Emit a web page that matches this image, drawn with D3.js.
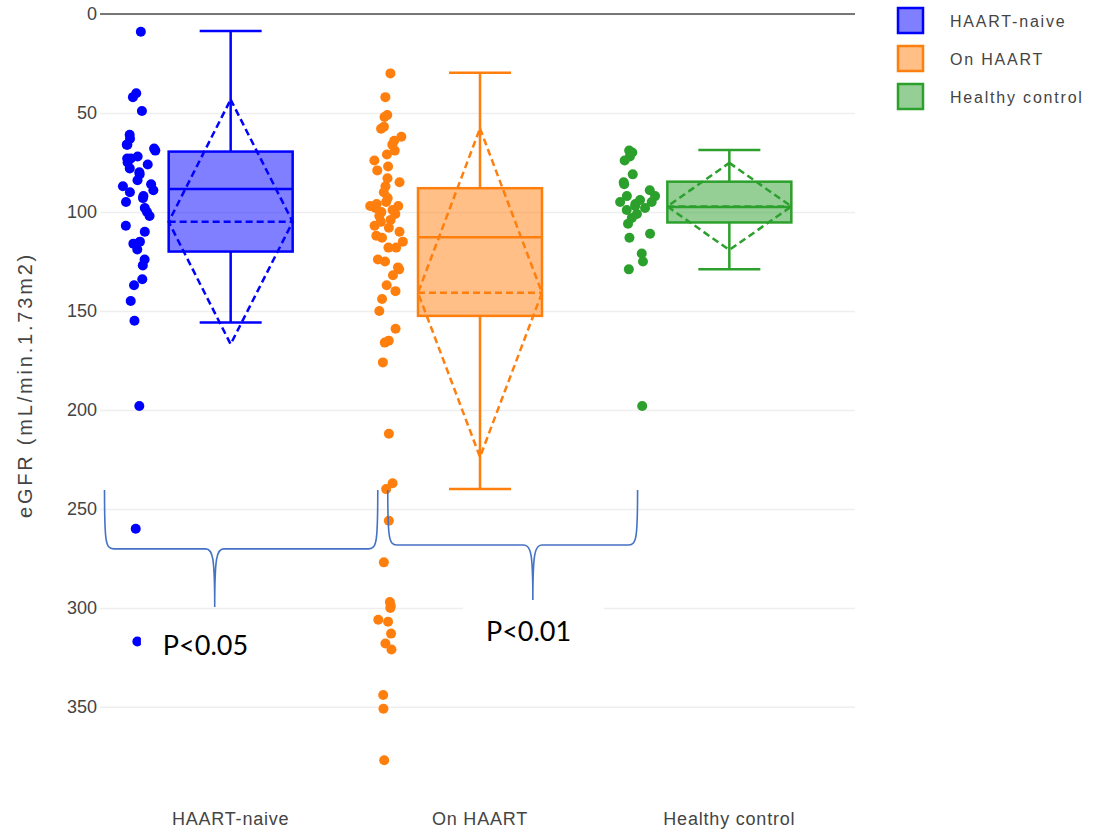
<!DOCTYPE html>
<html>
<head>
<meta charset="utf-8">
<script src="https://cdn.jsdelivr.net/npm/d3@7"></script>
<style>
  body { margin: 0; background: #fff; }
  svg { display: block; }
  text { font-family: "Liberation Sans", Arial, sans-serif; }
</style>
</head>
<body>
<script>
// categories and colours
var categories = ["HAART-naive", "On HAART", "Healthy control"];
var colors = ["#0000ff", "#ff7f0e", "#2ca02c"];

// eGFR values
var haartNaive = [9, 40, 42, 49, 61, 63, 66, 66, 68, 69, 72, 73, 73, 75, 76, 78, 80, 81, 84, 86, 87,
  89, 90, 92, 93, 95, 98, 100, 102, 107, 110, 115, 116, 119, 124, 127, 134, 137, 145, 155, 198, 260, 317];
var onHaart = [30, 42, 51, 52, 57, 58, 62, 64, 66, 69, 71, 74, 77, 79, 83, 85, 87, 90, 93, 95, 96, 97,
  97, 98, 99, 100, 101, 102, 104, 105, 107, 108, 110, 112, 113, 115, 118, 118, 124, 125, 128, 129, 132,
  137, 140, 144, 150, 159, 165, 166, 176, 212, 237, 240, 256, 277, 297, 299, 300, 306, 307, 313, 318,
  321, 344, 351, 377];
var healthyControl = [69, 70, 72, 74, 81, 85, 86, 89, 92, 92, 94, 95, 95, 96, 97, 98, 99, 101, 103, 106,
  111, 113, 121, 125, 129, 198];

// box statistics (axis is reversed: low values on top)
var whiskerLow = [8.6, 29.7, 68.7];
var q1 = [69.5, 88, 84.7];
var median = [88.4, 112.8, 97.5];
var q3 = [120, 152.5, 105.3];
var whiskerHigh = [155.9, 240, 129];
var mean = [105, 140.8, 97.2];
var sd = [61.8, 83, 22];

var yTicks = [0, 50, 100, 150, 200, 250, 300, 350];

// overlay annotations (x in category units, y in eGFR units)
var braces = [
  { x0: -0.506, xTip: -0.064, x1: 0.590, yTop: 240.4, yMid: 270.2, yTip: 299.5 },
  { x0: 0.630, xTip: 1.212, x1: 1.632, yTop: 240.4, yMid: 268.2, yTip: 296 }
];
var pLabels = ["P<0.05", "P<0.01"];
var pLabelPos = [{ x: -0.272, y: 323.7 }, { x: 1.024, y: 316.7 }];
var pMasks = [{ x0: -0.36, x1: 0.08, y0: 302, y1: 330 }, { x0: 0.932, x1: 1.496, y0: 297.5, y1: 326.3 }];

var groups = [haartNaive, onHaart, healthyControl];

var W = 1095, H = 831;
var plotLeft = 100, plotRight = 855;

var svg = d3.select("body").append("svg")
  .attr("width", W)
  .attr("height", H);

var y = d3.scaleLinear().domain([0, 392]).range([14, 790]);
var x = d3.scalePoint().domain(categories).range([106, 854]).padding(0.5);
var xi = d3.scaleLinear().domain([0, 1]).range([x(categories[0]), x(categories[1])]);

// grid + tick labels
var yAxis = d3.axisLeft(y).tickValues(yTicks).tickSize(-(plotRight - plotLeft)).tickPadding(3);
var gAxis = svg.append("g")
  .attr("transform", "translate(" + plotLeft + ",0)")
  .call(yAxis);
gAxis.select(".domain").remove();
gAxis.selectAll(".tick line").attr("stroke", "#eee").attr("stroke-width", 1.5);
gAxis.selectAll(".tick text")
  .attr("fill", "#444")
  .style("font-size", "18px")
  .style("font-family", "'Liberation Sans', Arial, sans-serif");

// zero line
svg.append("line")
  .attr("x1", plotLeft).attr("x2", plotRight)
  .attr("y1", y(0)).attr("y2", y(0))
  .attr("stroke", "#777").attr("stroke-width", 2);

// y axis title
svg.append("text")
  .attr("transform", "translate(32," + 385 + ") rotate(-90)")
  .attr("text-anchor", "middle")
  .attr("fill", "#444")
  .style("font-size", "20px")
  .style("letter-spacing", "2.8px")
  .text("eGFR (mL/min.1.73m2)");

// category labels
svg.append("g").selectAll("text")
  .data(categories)
  .join("text")
  .attr("x", function(d) { return x(d); })
  .attr("y", 825)
  .attr("text-anchor", "middle")
  .attr("fill", "#444")
  .style("font-size", "18px")
  .style("letter-spacing", "0.8px")
  .text(function(d) { return d; });

var boxHalf = 62, capHalf = 31, ptOffset = -92, jitterW = 19;
var rnd = d3.randomLcg(0.42);

groups.forEach(function(vals, i) {
  var cx = x(categories[i]);
  var col = colors[i];
  var g = svg.append("g");

  // points, jitter widened where the column is dense
  var dens = vals.map(function(v) {
    return vals.filter(function(w) { return Math.abs(w - v) <= 12; }).length;
  });
  var maxD = d3.max(dens);
  g.selectAll("circle")
    .data(vals)
    .join("circle")
    .attr("cx", function(d, k) {
      return cx + ptOffset + (rnd() * 2 - 1) * jitterW * Math.sqrt(dens[k] / maxD);
    })
    .attr("cy", function(d) { return y(d); })
    .attr("r", 5)
    .attr("fill", col);

  // whiskers
  g.append("line")
    .attr("x1", cx).attr("x2", cx)
    .attr("y1", y(whiskerLow[i])).attr("y2", y(q1[i]))
    .attr("stroke", col).attr("stroke-width", 2.5);
  g.append("line")
    .attr("x1", cx).attr("x2", cx)
    .attr("y1", y(q3[i])).attr("y2", y(whiskerHigh[i]))
    .attr("stroke", col).attr("stroke-width", 2.5);
  [whiskerLow[i], whiskerHigh[i]].forEach(function(v) {
    g.append("line")
      .attr("x1", cx - capHalf).attr("x2", cx + capHalf)
      .attr("y1", y(v)).attr("y2", y(v))
      .attr("stroke", col).attr("stroke-width", 2.5);
  });

  // box
  g.append("rect")
    .attr("x", cx - boxHalf)
    .attr("y", y(q1[i]))
    .attr("width", boxHalf * 2)
    .attr("height", y(q3[i]) - y(q1[i]))
    .attr("fill", col).attr("fill-opacity", 0.5)
    .attr("stroke", col).attr("stroke-width", 2.5);
  g.append("line")
    .attr("x1", cx - boxHalf).attr("x2", cx + boxHalf)
    .attr("y1", y(median[i])).attr("y2", y(median[i]))
    .attr("stroke", col).attr("stroke-width", 2.5);

  // mean line and sd diamond
  g.append("line")
    .attr("x1", cx - boxHalf).attr("x2", cx + boxHalf)
    .attr("y1", y(mean[i])).attr("y2", y(mean[i]))
    .attr("stroke", col).attr("stroke-width", 2.5)
    .attr("stroke-dasharray", "7,4");
  g.append("path")
    .attr("d", "M" + cx + "," + y(mean[i] - sd[i]) +
      "L" + (cx + boxHalf) + "," + y(mean[i]) +
      "L" + cx + "," + y(mean[i] + sd[i]) +
      "L" + (cx - boxHalf) + "," + y(mean[i]) + "Z")
    .attr("fill", "none")
    .attr("stroke", col).attr("stroke-width", 2.5)
    .attr("stroke-dasharray", "7,4");
});

// legend
var legend = svg.append("g");
categories.forEach(function(c, i) {
  var cy = 20 + i * 38;
  legend.append("rect")
    .attr("x", 898).attr("y", cy - 12)
    .attr("width", 25).attr("height", 25)
    .attr("fill", colors[i]).attr("fill-opacity", 0.5)
    .attr("stroke", colors[i]).attr("stroke-width", 2.5);
  legend.append("text")
    .attr("x", 950).attr("y", cy + 7)
    .attr("fill", "#444")
    .style("font-size", "16px")
    .style("letter-spacing", "1.8px")
    .text(c);
});

// significance braces pasted on top
pMasks.forEach(function(m) {
  svg.append("rect")
    .attr("x", xi(m.x0)).attr("y", y(m.y0))
    .attr("width", xi(m.x1) - xi(m.x0))
    .attr("height", y(m.y1) - y(m.y0))
    .attr("fill", "#fff");
});

braces.forEach(function(b) {
  var a = xi(b.x0), t = xi(b.xTip), e = xi(b.x1);
  var top = y(b.yTop), mid = y(b.yMid), tip = y(b.yTip);
  var d = "M" + a + "," + top +
    "C" + a + "," + (mid - 8) + " " + (a + 1) + "," + mid + " " + (a + 9) + "," + mid +
    "L" + (t - 9) + "," + mid +
    "C" + (t - 2) + "," + mid + " " + t + "," + (mid + 8) + " " + t + "," + tip +
    "C" + t + "," + (mid + 8) + " " + (t + 2) + "," + mid + " " + (t + 9) + "," + mid +
    "L" + (e - 9) + "," + mid +
    "C" + (e - 1) + "," + mid + " " + e + "," + (mid - 8) + " " + e + "," + top;
  svg.append("path")
    .attr("d", d)
    .attr("fill", "none")
    .attr("stroke", "#4472c4")
    .attr("stroke-width", 1.6);
});

svg.append("g").selectAll("text")
  .data(pLabels)
  .join("text")
  .attr("x", function(d, i) { return xi(pLabelPos[i].x); })
  .attr("y", function(d, i) { return y(pLabelPos[i].y); })
  .attr("fill", "#000")
  .style("font-family", "Lato, 'Open Sans', sans-serif")
  .style("font-size", "27px")
  .text(function(d) { return d; });
</script>
</body>
</html>
